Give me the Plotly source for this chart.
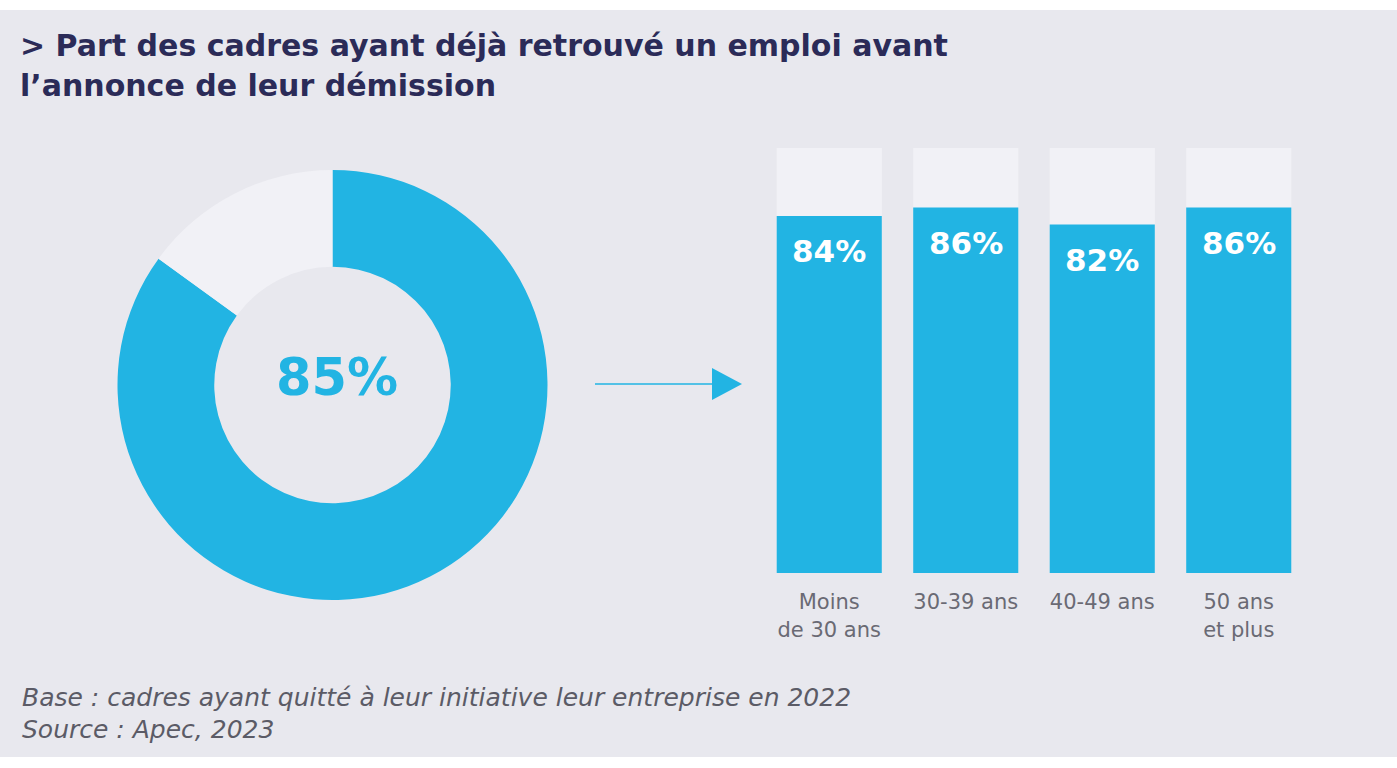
import plotly.graph_objects as go

W, H = 1397, 768

# data
donut_labels = ["Ont déjà retrouvé un emploi", "Autres"]
donut_values = [85, 15]
donut_text = "85%"

age_groups = ["Moins<br>de 30 ans", "30-39 ans", "40-49 ans", "50 ans<br>et plus"]
share_found = [84, 86, 82, 86]
track_full = [100, 100, 100, 100]

title_lines = ["> Part des cadres ayant déjà retrouvé un emploi avant",
               "l’annonce de leur démission"]
footer_lines = ["Base : cadres ayant quitté à leur initiative leur entreprise en 2022",
                "Source : Apec, 2023"]

BLUE = "#22b4e3"
LIGHT = "#f1f1f6"
BG = "#e8e8ee"
NAVY = "#2b2b58"
GREY = "#5b5b66"
FONT = "DejaVu Sans"


def px(x):
    return x / W


def py(y):
    return 1 - y / H


fig = go.Figure()

fig.add_trace(go.Pie(
    labels=donut_labels, values=donut_values, hole=0.55, sort=False,
    direction="clockwise", rotation=0, textinfo="none", hoverinfo="label+value",
    marker=dict(colors=[BLUE, LIGHT], line=dict(width=0)),
    domain=dict(x=[px(117), px(548)], y=[py(600), py(170)]),
    showlegend=False,
))

fig.add_trace(go.Bar(
    x=age_groups, y=track_full, marker=dict(color=LIGHT, line=dict(width=0)),
    hoverinfo="skip", showlegend=False,
))
fig.add_trace(go.Bar(
    x=age_groups, y=share_found, marker=dict(color=BLUE, line=dict(width=0)),
    showlegend=False,
))

annotations = []
for cat, v in zip(age_groups, share_found):
    annotations.append(dict(
        x=cat, y=v, xref="x", yref="y", text=f"<b>{v}%</b>", showarrow=False,
        yanchor="top", yshift=-15, font=dict(family=FONT, size=31, color="white"),
    ))

annotations.append(dict(
    x=px(337), y=py(377), xref="paper", yref="paper", xanchor="center", yanchor="middle",
    text=f"<b>{donut_text}</b>", showarrow=False,
    font=dict(family=FONT, size=51, color=BLUE),
))

for i, line in enumerate(title_lines):
    annotations.append(dict(
        x=px(18), y=py(45 + 40 * i), xref="paper", yref="paper",
        xanchor="left", yanchor="middle",
        text=f"<b>{line}</b>", showarrow=False,
        font=dict(family=FONT, size=30, color=NAVY),
    ))

for i, line in enumerate(footer_lines):
    annotations.append(dict(
        x=px(20), y=py(697 + 32 * i), xref="paper", yref="paper",
        xanchor="left", yanchor="middle",
        text=f"<i>{line}</i>", showarrow=False,
        font=dict(family=FONT, size=25, color=GREY),
    ))

shapes = [
    dict(type="rect", xref="paper", yref="paper", x0=0, x1=1, y0=py(757), y1=py(10),
         fillcolor=BG, line=dict(width=0), layer="below"),
    dict(type="line", xref="paper", yref="paper", x0=px(595), x1=px(716), y0=py(384), y1=py(384),
         line=dict(color=BLUE, width=1.5)),
    dict(type="path", xref="paper", yref="paper",
         path=f"M {px(712)},{py(368)} L {px(742)},{py(384)} L {px(712)},{py(400)} Z",
         fillcolor=BLUE, line=dict(width=0)),
]

fig.update_layout(
    width=W, height=H, margin=dict(l=0, r=0, t=0, b=0),
    paper_bgcolor="white", plot_bgcolor="rgba(0,0,0,0)",
    barmode="overlay", bargap=0.23,
    font=dict(family=FONT),
    annotations=annotations, shapes=shapes,
)
fig.update_xaxes(domain=[px(761), px(1307)], showgrid=False, showline=False, zeroline=False,
                 ticks="outside", ticklen=10, tickcolor="rgba(0,0,0,0)",
                 tickfont=dict(family=FONT, size=21, color="#6a6a74"))
fig.update_yaxes(domain=[py(573), py(148)], range=[0, 100], visible=False)

# drop the default page margin so the figure sits at the window corner
fig.write_html("out.html", config={"displayModeBar": False},
               post_script="document.body.style.margin='0';")
